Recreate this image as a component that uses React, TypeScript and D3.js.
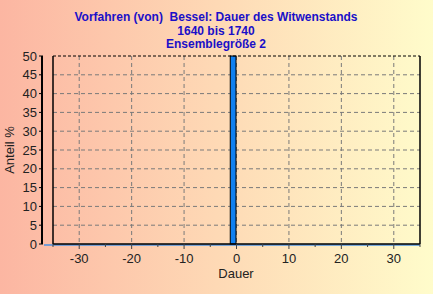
import React from "react";
import * as d3 from "d3";

const titleLines = ["Vorfahren (von)  Bessel: Dauer des Witwenstands", "1640 bis 1740", "Ensemblegröße 2"];
const barStarts = [-1];
const barValues = [50];
const yTicks = [0, 5, 10, 15, 20, 25, 30, 35, 40, 45, 50];
const xTicks = [-30, -20, -10, 0, 10, 20, 30];
const xMinor = [-35, -25, -15, -5, 5, 15, 25, 35];

const W = 433, H = 294;
const left = 53, right = 420, top = 56, bottom = 244;

export default function App() {
  const x = d3.scaleLinear().domain([-35, 35]).range([left, right]);
  const y = d3.scaleLinear().domain([0, 50]).range([bottom, top]);
  const font = "'Liberation Sans', Arial, sans-serif";
  return (
    <svg width={W} height={H} style={{ position: "absolute", left: 0, top: 0 }}>
      <defs>
        <linearGradient id="bg" x1="0" y1="0" x2="1" y2="0">
          <stop offset="0" stopColor="#fcb6a2" />
          <stop offset="0.5" stopColor="#fed9b5" />
          <stop offset="1" stopColor="#fffccb" />
        </linearGradient>
      </defs>
      <rect width={W} height={H} fill="url(#bg)" />
      {titleLines.map((t, i) => (
        <text key={i} x={216} y={21 + i * 13.5} textAnchor="middle" fontFamily={font} fontWeight="bold" fontSize={12} fill="#1a10c8" style={{ whiteSpace: "pre" }}>{t}</text>
      ))}
      {/* grid */}
      {yTicks.filter(v => v > 0 && v < 50).map(v => (
        <line key={v} x1={left} x2={right} y1={y(v)} y2={y(v)} stroke="#7a7a7a" strokeDasharray="4,3" strokeWidth={1} />
      ))}
      {xTicks.map(v => (
        <line key={v} x1={x(v)} x2={x(v)} y1={top} y2={bottom} stroke="#7a7a7a" strokeDasharray="4,3" strokeWidth={1} />
      ))}
      {/* baseline blue */}
      <line x1={44} x2={right} y1={bottom + 1} y2={bottom + 1} stroke="#4a90e0" strokeWidth={1.5} />
      {/* bars */}
      {barStarts.map((s, i) => (
        <rect key={i} x={x(s) - 1} y={y(barValues[i])} width={x(s + 1) - x(s) + 0.5} height={bottom - y(barValues[i])} fill="#1080f0" stroke="#000" strokeWidth={1} />
      ))}
      {/* plot border */}
      <line x1={left} x2={right} y1={top} y2={top} stroke="#000" strokeDasharray="3,2" />
      <line x1={right} x2={right} y1={top} y2={bottom} stroke="#000" strokeWidth={1.5} />
      <line x1={left} x2={left} y1={top} y2={bottom} stroke="#000" strokeWidth={1.5} />
      <line x1={left} x2={right} y1={bottom} y2={bottom} stroke="#000" strokeWidth={1.5} />
      {/* y axis */}
      <line x1={42} x2={42} y1={top} y2={bottom} stroke="#000" strokeWidth={2} />
      {yTicks.map(v => (
        <g key={v}>
          <line x1={39} x2={43} y1={y(v)} y2={y(v)} stroke="#000" />
          <text x={37} y={y(v) + 4.5} textAnchor="end" fontFamily={font} fontSize={13} fill="#222">{v}</text>
        </g>
      ))}
      {/* x ticks */}
      {xTicks.map(v => (
        <g key={v}>
          <line x1={x(v)} x2={x(v)} y1={bottom} y2={bottom + 5} stroke="#444" />
          <text x={x(v)} y={bottom + 19} textAnchor="middle" fontFamily={font} fontSize={13} fill="#222">{v}</text>
        </g>
      ))}
      {xMinor.map(v => (
        <line key={v} x1={x(v)} x2={x(v)} y1={bottom} y2={bottom + 3} stroke="#444" />
      ))}
      <text x={236} y={278} textAnchor="middle" fontFamily={font} fontSize={13} fill="#222">Dauer</text>
      <text transform="translate(14,150) rotate(-90)" textAnchor="middle" fontFamily={font} fontSize={13} fill="#222">Anteil %</text>
    </svg>
  );
}
